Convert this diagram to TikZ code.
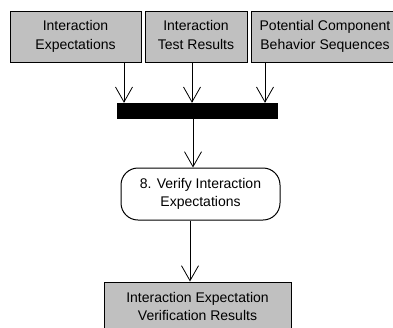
\documentclass[tikz,border=0pt]{standalone}
\usepackage{fontspec}
\setmainfont{Liberation Sans}
\usetikzlibrary{arrows.meta}
\definecolor{boxgray}{RGB}{192,192,192}
% two centred lines with equal line boxes
\newcommand{\twolines}[2]{\strut#1\\\strut#2}
\begin{document}
\begin{tikzpicture}[x=1pt,y=-1pt,
  font=\fontsize{14}{18.5}\selectfont,
  artifact/.style={draw=black, fill=boxgray, line width=1pt, align=center,
    minimum height=51pt, inner sep=0pt},
  activity/.style={draw=black, fill=white, line width=1pt, align=center,
    rounded corners=17pt, minimum height=52pt, minimum width=159pt, inner sep=0pt},
  syncbar/.style={fill=black, minimum width=161pt, minimum height=16pt, inner sep=0pt},
  flow/.style={line width=0.8pt, -{Straight Barb[length=15pt,width=17pt,line width=0.8pt]}}]
\useasboundingbox (0,0) rectangle (393,327);
\begin{scope}
\clip (0,0) rectangle (393,327);
% input artifacts
\node[artifact, minimum width=131pt] (e1) at (75.5,36.5) {\twolines{Interaction}{Expectations}};
\node[artifact, minimum width=102pt] (e2) at (196,36.5) {\twolines{Interaction}{Test Results}};
\node[artifact, minimum width=148pt] (e3) at (325,36.5) {\twolines{Potential Component}{Behavior Sequences}};
% join bar
\node[syncbar] (bar) at (197.5,111) {};
% activity
\node[activity] (act) at (200.5,194) {\twolines{8. Verify Interaction}{Expectations}};
% output artifact
\node[artifact, minimum width=187pt, minimum height=52pt] (out) at (197.5,308) {\twolines{Interaction Expectation}{Verification Results}};
% connectors
\draw[flow] (e1.south -| 124,0) -- (bar.north -| 124,0);
\draw[flow] (e2.south -| 192,0) -- (bar.north -| 192,0);
\draw[flow] (e3.south -| 265,0) -- (bar.north -| 265,0);
\draw[flow] (bar.south -| 193,0) -- (act.north -| 193,0);
\draw[flow] (act.south -| 190,0) -- (out.north -| 190,0);
\end{scope}
\end{tikzpicture}
\end{document}
